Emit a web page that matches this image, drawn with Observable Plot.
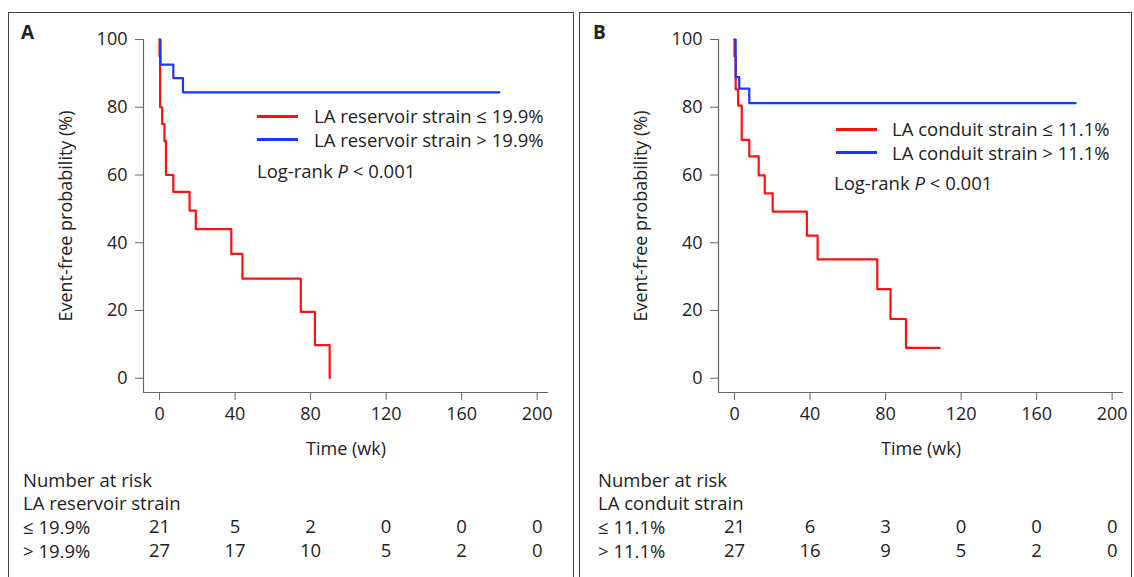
<!DOCTYPE html>
<html>
<head>
<meta charset="utf-8">
<script src="https://cdn.jsdelivr.net/npm/d3@7"></script>
<script src="https://cdn.jsdelivr.net/npm/@observablehq/plot@0.6"></script>
<style>
  html, body { margin: 0; padding: 0; background: #fff; }
  #root { position: relative; width: 1134px; height: 577px; overflow: hidden; background: #fff;
          font-family: "Open Sans", sans-serif; color: #222; }
  .panel { position: absolute; border: 1px solid #444; box-sizing: border-box; }
  .abs { position: absolute; white-space: nowrap; font-size: 18.5px; line-height: 1; }
  .tag { position: absolute; font-weight: bold; font-size: 19px; line-height: 1; }
  .leg { position: absolute; height: 3px; }
  .plot { position: absolute; top: 0; }
</style>
</head>
<body>
<div id="root">
  <div class="panel" style="left:8px;top:12px;width:566px;height:600px"></div>
  <div class="panel" style="left:579px;top:12px;width:553px;height:600px"></div>
  <div id="plotA" class="plot" style="left:0px"></div>
  <div id="plotB" class="plot" style="left:575px"></div>
</div>
<script>
// ---------------- data ----------------
const xTicks = [0, 40, 80, 120, 160, 200];
const yTicks = [0, 20, 40, 60, 80, 100];

// Panel A: LA reservoir strain
const timesLowA = [0, 0.3, 1.4, 2.6, 3.4, 7.3, 15.9, 19.2, 38.0, 43.9, 74.8, 82.3, 90.1];
const survLowA  = [95, 80, 75, 70, 60, 55, 49.5, 44, 36.7, 29.4, 19.6, 9.8, 0];
const endLowA = 90.1;
const timesHighA = [0.5, 7.3, 12.4];
const survHighA  = [92.6, 88.6, 84.4];
const endHighA = 180;
const riskTimesA = [0, 40, 80, 120, 160, 200];
const riskLowA  = [21, 5, 2, 0, 0, 0];
const riskHighA = [27, 17, 10, 5, 2, 0];

// Panel B: LA conduit strain
const timesLowB = [0, 0.6, 1.9, 3.8, 7.8, 12.8, 16.0, 20.2, 38.3, 44.0, 75.6, 82.6, 90.8];
const survLowB  = [95, 85.3, 80.5, 70.4, 65.5, 59.9, 54.6, 49.2, 42.1, 35.1, 26.3, 17.5, 9.0];
const endLowB = 108.7;
const timesHighB = [0.6, 2.5, 7.8];
const survHighB  = [88.9, 85.5, 81.2];
const endHighB = 180.6;
const riskTimesB = [0, 40, 80, 120, 160, 200];
const riskLowB  = [21, 6, 3, 0, 0, 0];
const riskHighB = [27, 16, 9, 5, 2, 0];

const redColor = "#ff1010";
const blueColor = "#1438ff";

// -------------- helpers ---------------
function kmPoints(times, surv, end) {
  const pts = [{t: 0, s: 100}];
  times.forEach((t, i) => pts.push({t, s: surv[i]}));
  const last = pts[pts.length - 1];
  if (end > last.t) pts.push({t: end, s: last.s});
  return pts;
}

const X_DOMAIN = [-8.5, 206];
const Y_DOMAIN = [-4.2, 100];

function panel(opts) {
  const low = kmPoints(opts.timesLow, opts.survLow, opts.endLow);
  const high = kmPoints(opts.timesHigh, opts.survHigh, opts.endHigh);
  const rowLow = opts.riskTimes.map((t, i) => ({t, n: opts.riskLow[i]}));
  const rowHigh = opts.riskTimes.map((t, i) => ({t, n: opts.riskHigh[i]}));
  return Plot.plot({
    width: opts.width,
    height: 577,
    marginLeft: 143,
    marginRight: opts.marginRight,
    marginTop: 39,
    marginBottom: 185,
    style: {fontFamily: "'Open Sans', sans-serif", fontSize: "18px", color: "#222", background: "transparent", overflow: "visible"},
    x: {domain: X_DOMAIN},
    y: {domain: Y_DOMAIN},
    marks: [
      Plot.ruleX([X_DOMAIN[0]], {y1: Y_DOMAIN[0], y2: 100, stroke: "#666", strokeWidth: 1.2}),
      Plot.ruleY([Y_DOMAIN[0]], {stroke: "#666", strokeWidth: 1.2}),
      Plot.axisX({ticks: xTicks, tickSize: 8, tickPadding: 7, stroke: "#666", fill: "#222", fontSize: 18,
                  label: "Time (wk)", labelAnchor: "center", labelArrow: "none", labelOffset: 62}),
      Plot.axisY({ticks: yTicks, tickSize: 8, tickPadding: 8, stroke: "#666", fill: "#222", fontSize: 18,
                  label: "Event-free probability (%)", labelAnchor: "center", labelArrow: "none", labelOffset: 84}),
      Plot.line(low, {x: "t", y: "s", curve: "step-after", stroke: redColor, strokeWidth: 2.2}),
      Plot.line(high, {x: "t", y: "s", curve: "step-after", stroke: blueColor, strokeWidth: 2.2}),
      Plot.text(rowLow, {x: "t", y: () => Y_DOMAIN[0], text: "n", dy: 135,
                         textAnchor: "middle", fill: "#222", fontSize: 18.5}),
      Plot.text(rowHigh, {x: "t", y: () => Y_DOMAIN[0], text: "n", dy: 159,
                          textAnchor: "middle", fill: "#222", fontSize: 18.5})
    ]
  });
}

// -------------- Plot A ---------------
document.getElementById("plotA").append(panel({
  width: 575, marginRight: 27,
  timesLow: timesLowA, survLow: survLowA, endLow: endLowA,
  timesHigh: timesHighA, survHigh: survHighA, endHigh: endHighA,
  riskTimes: riskTimesA, riskLow: riskLowA, riskHigh: riskHighA
}));
// -------------- Plot B ---------------
document.getElementById("plotB").append(panel({
  width: 559, marginRight: 11,
  timesLow: timesLowB, survLow: survLowB, endLow: endLowB,
  timesHigh: timesHighB, survHigh: survHighB, endHigh: endHighB,
  riskTimes: riskTimesB, riskLow: riskLowB, riskHigh: riskHighB
}));

// -------------- annotations (legend, tags, table row labels) ---------------
const root = document.getElementById("root");
function addText(html, left, cy, cls = "abs") {
  const d = document.createElement("div");
  d.className = cls;
  d.innerHTML = html;
  d.style.left = left + "px";
  d.style.top = (cy) + "px";
  d.style.transform = "translateY(-50%)";
  root.append(d);
  return d;
}
function addLegLine(color, left, width, cy) {
  const d = document.createElement("div");
  d.className = "leg";
  d.style.background = color;
  d.style.left = left + "px";
  d.style.width = width + "px";
  d.style.top = (cy - 1.5) + "px";
  root.append(d);
}

const panelsText = [
  {tag: "A", tagX: 21, legX: 257, legTextX: 314, legY: 116, logX: 257, logY: 171,
   lowLabel: "LA reservoir strain \u2264 19.9%", highLabel: "LA reservoir strain > 19.9%",
   tableX: 23, group: "LA reservoir strain", lowRow: "\u2264 19.9%", highRow: "> 19.9%"},
  {tag: "B", tagX: 593, legX: 836, legTextX: 892, legY: 129, logX: 834, logY: 183,
   lowLabel: "LA conduit strain \u2264 11.1%", highLabel: "LA conduit strain > 11.1%",
   tableX: 598, group: "LA conduit strain", lowRow: "\u2264 11.1%", highRow: "> 11.1%"}
];
panelsText.forEach(p => {
  addText(p.tag, p.tagX, 32, "tag");
  addLegLine(redColor, p.legX, 41, p.legY);
  addLegLine(blueColor, p.legX, 41, p.legY + 23.5);
  addText(p.lowLabel, p.legTextX, p.legY);
  addText(p.highLabel, p.legTextX, p.legY + 23.5);
  addText("Log-rank <i>P</i> &lt; 0.001", p.logX, p.logY);
  addText("Number at risk", p.tableX, 480);
  addText(p.group, p.tableX, 503);
  addText(p.lowRow, p.tableX, 527);
  addText(p.highRow, p.tableX, 551);
});
</script>
</body>
</html>
